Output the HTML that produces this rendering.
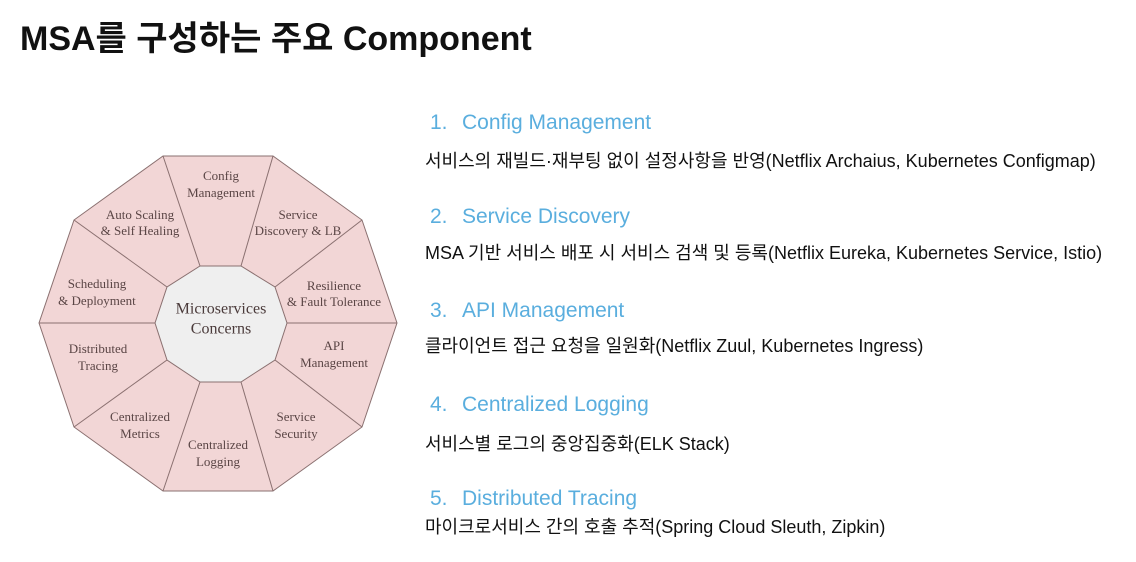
<!DOCTYPE html>
<html><head><meta charset="utf-8"><style>
body{margin:0;width:1136px;height:562px;background:#fff;position:relative;overflow:hidden;font-family:"Liberation Sans","Noto Sans CJK KR",sans-serif;}
.t{position:absolute;white-space:nowrap;}
h1{position:absolute;left:20px;top:11px;margin:0;font-size:34px;font-weight:bold;color:#111;font-family:"Liberation Sans","Noto Sans CJK KR",sans-serif;}
.h{color:#5aaede;font-size:21px;left:430px;}
.h span{display:inline-block;width:32px;}
.b{color:#111;font-size:18px;left:425px;}
</style></head><body>
<h1>MSA를 구성하는 주요 Component</h1>
<svg width="1136" height="562" style="position:absolute;left:0;top:0">
<g stroke="#8a7070" stroke-width="1" fill="#f2d6d6">
<polygon points="163,156 273,156 362,220 397,323 362,427 273,491 163,491 74,427 39,323 74,220"/>
<line x1="163" y1="156" x2="200" y2="266"/><line x1="273" y1="156" x2="241" y2="266"/>
<line x1="362" y1="220" x2="275" y2="287"/><line x1="397" y1="323" x2="287" y2="323"/>
<line x1="362" y1="427" x2="275" y2="360"/><line x1="273" y1="491" x2="241" y2="382"/>
<line x1="163" y1="491" x2="200" y2="382"/><line x1="74" y1="427" x2="167" y2="360"/>
<line x1="39" y1="323" x2="155" y2="323"/><line x1="74" y1="220" x2="167" y2="287"/>
<polygon fill="#efefef" points="200,266 241,266 275,287 287,323 275,360 241,382 200,382 167,360 155,323 167,287"/>
</g>
<g font-family="Liberation Serif, serif" font-size="13" fill="#5a4545" text-anchor="middle" dominant-baseline="middle">
<text x="221" y="177">Config</text><text x="221" y="194">Management</text>
<text x="298" y="216">Service</text><text x="298" y="232">Discovery &amp; LB</text>
<text x="334" y="287">Resilience</text><text x="334" y="303">&amp; Fault Tolerance</text>
<text x="334" y="347">API</text><text x="334" y="364">Management</text>
<text x="296" y="418">Service</text><text x="296" y="435">Security</text>
<text x="218" y="446">Centralized</text><text x="218" y="463">Logging</text>
<text x="140" y="418">Centralized</text><text x="140" y="435">Metrics</text>
<text x="98" y="350">Distributed</text><text x="98" y="367">Tracing</text>
<text x="97" y="285">Scheduling</text><text x="97" y="302">&amp; Deployment</text>
<text x="140" y="216">Auto Scaling</text><text x="140" y="232">&amp; Self Healing</text>
<text x="221" y="310" font-size="16" fill="#4a3a3a">Microservices</text><text x="221" y="330" font-size="16" fill="#4a3a3a">Concerns</text>
</g>
</svg>
<div class="t h" style="top:111px"><span>1.</span>Config Management</div>
<div class="t b" style="top:147px">서비스의 재빌드·재부팅 없이 설정사항을 반영(Netflix Archaius, Kubernetes Configmap)</div>
<div class="t h" style="top:205px"><span>2.</span>Service Discovery</div>
<div class="t b" style="top:239px">MSA 기반 서비스 배포 시 서비스 검색 및 등록(Netflix Eureka, Kubernetes Service, Istio)</div>
<div class="t h" style="top:299px"><span>3.</span>API Management</div>
<div class="t b" style="top:332px">클라이언트 접근 요청을 일원화(Netflix Zuul, Kubernetes Ingress)</div>
<div class="t h" style="top:393px"><span>4.</span>Centralized Logging</div>
<div class="t b" style="top:430px">서비스별 로그의 중앙집중화(ELK Stack)</div>
<div class="t h" style="top:487px"><span>5.</span>Distributed Tracing</div>
<div class="t b" style="top:513px">마이크로서비스 간의 호출 추적(Spring Cloud Sleuth, Zipkin)</div>
</body></html>
